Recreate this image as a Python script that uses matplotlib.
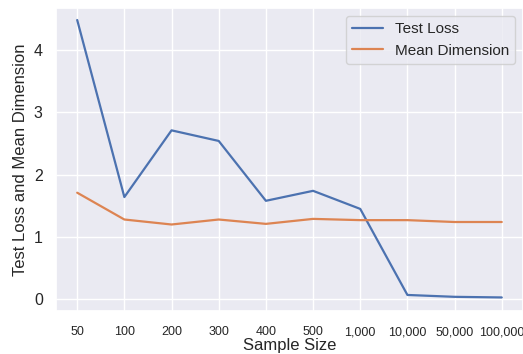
import matplotlib
matplotlib.use("Agg")
import matplotlib.pyplot as plt
import seaborn as sns

sample_sizes = ["50", "100", "200", "300", "400", "500", "1,000", "10,000", "50,000", "100,000"]
test_loss = [4.48, 1.64, 2.71, 2.54, 1.58, 1.74, 1.45, 0.07, 0.04, 0.03]
mean_dim = [1.71, 1.28, 1.20, 1.28, 1.21, 1.29, 1.27, 1.27, 1.24, 1.24]

sns.set_theme(style="darkgrid")
plt.rcParams['font.family'] = ['Arial', 'Liberation Sans', 'DejaVu Sans']

fig = plt.figure(figsize=(5.23, 3.54), dpi=100)
ax = fig.add_axes([0.107, 0.121, 0.893, 0.856])

x = list(range(len(sample_sizes)))
ax.plot(x, test_loss, label="Test Loss", linewidth=1.6)
ax.plot(x, mean_dim, label="Mean Dimension", linewidth=1.6)

ax.set_xlim(-0.45, 9.45)
ax.set_ylim(-0.19, 4.67)
ax.set_xticks(x)
ax.set_xticklabels(sample_sizes, fontsize=9)
ax.tick_params(axis="x", pad=5)
ax.tick_params(axis="y", labelsize=11.5)
ax.set_yticks([0, 1, 2, 3, 4])
ax.set_xlabel("Sample Size", fontsize=12, labelpad=0)
ax.set_ylabel("Test Loss and Mean Dimension", fontsize=12)
ax.legend(loc="upper right", fontsize=11)

fig.savefig("out.png", dpi=100)
